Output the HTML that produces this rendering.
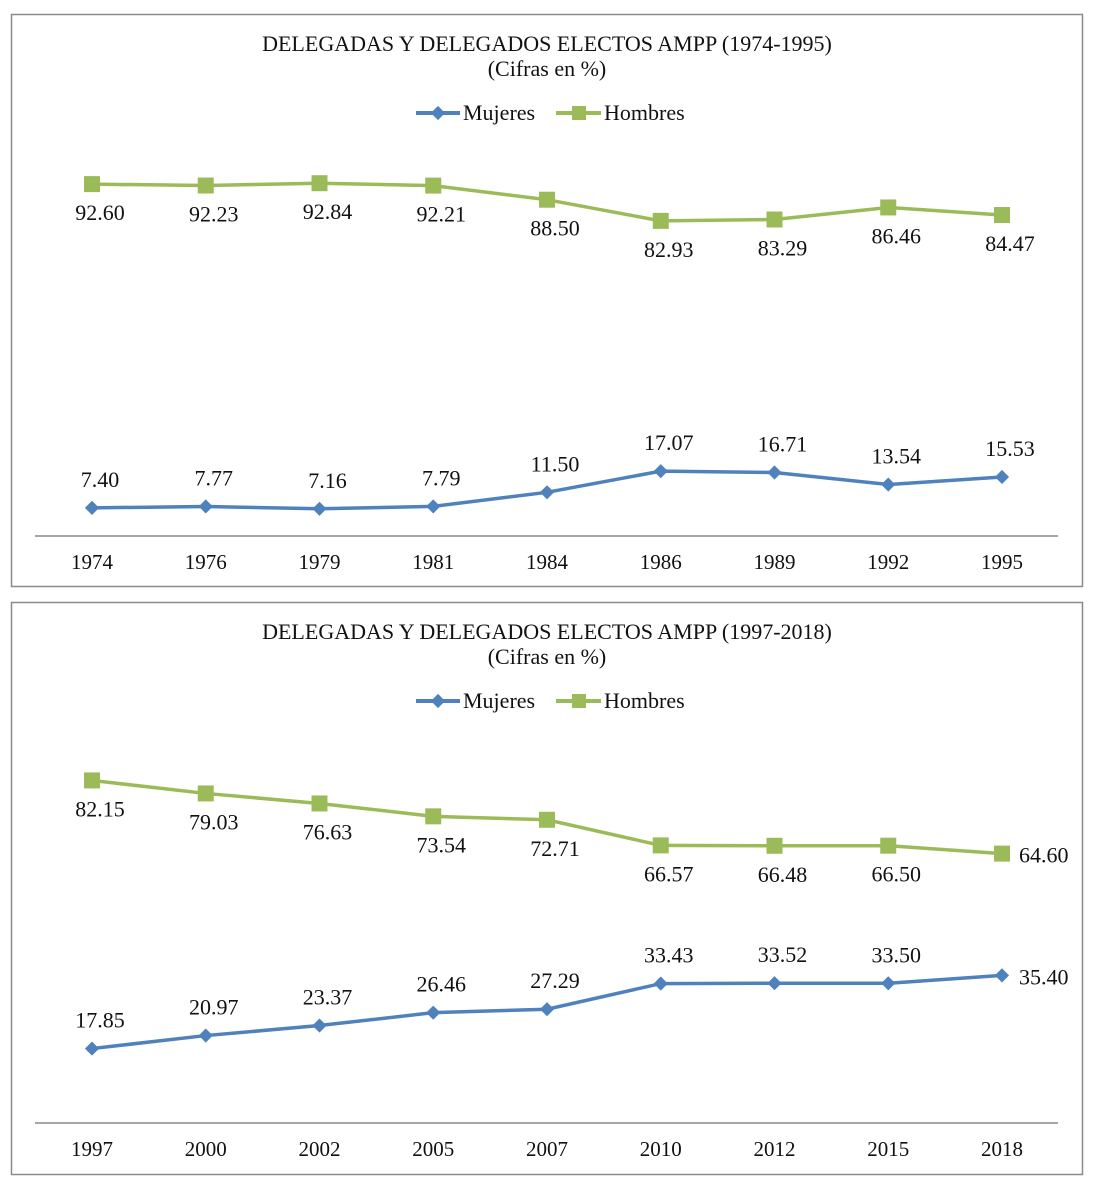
<!DOCTYPE html>
<html><head><meta charset="utf-8"><style>
body{margin:0;background:#fff;width:1094px;height:1190px;overflow:hidden}
svg{position:absolute;left:0;top:0}
text{font-family:"Liberation Serif",serif;fill:#111}
</style></head><body>
<svg id="s" width="1094" height="1190"></svg>
<script>
const cats1=["1974","1976","1979","1981","1984","1986","1989","1992","1995"];
const muj1=[7.40,7.77,7.16,7.79,11.50,17.07,16.71,13.54,15.53];
const hom1=[92.60,92.23,92.84,92.21,88.50,82.93,83.29,86.46,84.47];
const cats2=["1997","2000","2002","2005","2007","2010","2012","2015","2018"];
const muj2=[17.85,20.97,23.37,26.46,27.29,33.43,33.52,33.50,35.40];
const hom2=[82.15,79.03,76.63,73.54,72.71,66.57,66.48,66.50,64.60];
const titles=["DELEGADAS Y DELEGADOS ELECTOS AMPP (1974-1995)","DELEGADAS Y DELEGADOS ELECTOS AMPP (1997-2018)"];
const NS="http://www.w3.org/2000/svg",svg=document.getElementById('s');
function el(t,a,p){const e=document.createElementNS(NS,t);for(const k in a)e.setAttribute(k,a[k]);(p||svg).appendChild(e);return e;}
function chart(idx,top,cats,muj,hom,axisY,scale,lastRight){
  const g=el('g',{});
  
  
  const fr=el('rect',{x:11.5,y:top+0.5,width:1071,height:572,fill:'#fff',stroke:'#8a8a8a','stroke-width':1.5},g);
  
  const t=el('text',{x:547,y:top+37,'text-anchor':'middle','font-size':22},g);t.textContent=titles[idx];
  
  const st=el('text',{x:547,y:top+62,'text-anchor':'middle','font-size':22},g);st.textContent="(Cifras en %)";
  
  const ly=top+99;
  const lm=el('g',{},g);
  el('line',{x1:416,x2:460,y1:ly,y2:ly,stroke:'#4f81bd','stroke-width':4},lm);
  el('rect',{x:433,y:ly-5,width:10,height:10,fill:'#4f81bd',transform:`rotate(45 438 ${ly})`},lm);
  const tm=el('text',{x:463,y:ly+7,'font-size':22},lm);tm.textContent="Mujeres";
  const lh=el('g',{},g);
  el('line',{x1:556,x2:601,y1:ly,y2:ly,stroke:'#9bbb59','stroke-width':4},lh);
  el('rect',{x:572,y:ly-7,width:14,height:14,fill:'#9bbb59'},lh);
  const th=el('text',{x:604,y:ly+7,'font-size':22},lh);th.textContent="Hombres";
  const X=i=>92+i*113.75, Y=v=>axisY-v*scale;
  const ax=el('line',{x1:35,x2:1058,y1:axisY,y2:axisY,stroke:'#888','stroke-width':1.5},g);
  
  cats.forEach((c,i)=>{const tx=el('text',{x:X(i),y:axisY+33,'text-anchor':'middle','font-size':21},g);tx.textContent=c;
    });
  [[hom,'#9bbb59','hombres',1],[muj,'#4f81bd','mujeres',-1]].forEach(([d,col,nm,dir])=>{
    const pl=el('polyline',{points:d.map((v,i)=>X(i)+','+Y(v)).join(' '),fill:'none',stroke:col,'stroke-width':3.5},g);
    
    d.forEach((v,i)=>{
      const x=X(i),y=Y(v);let m;
      if(nm==='hombres')m=el('rect',{x:x-8,y:y-8,width:16,height:16,fill:col},g);
      else m=el('rect',{x:x-5,y:y-5,width:10,height:10,fill:col,transform:`rotate(45 ${x} ${y})`},g);
      
      let lx=x+8,ly2=dir>0?y+36:y-21,anc='middle';
      if(lastRight&&i===d.length-1){lx=x+17;ly2=y+9;anc='start';}
      const lb=el('text',{x:lx,y:ly2,'text-anchor':anc,'font-size':22},g);lb.textContent=v.toFixed(2);
      
    });
  });
}
chart(0,14,cats1,muj1,hom1,536,3.8,false);
chart(1,602,cats2,muj2,hom2,1123,4.17,true);
</script></body></html>
